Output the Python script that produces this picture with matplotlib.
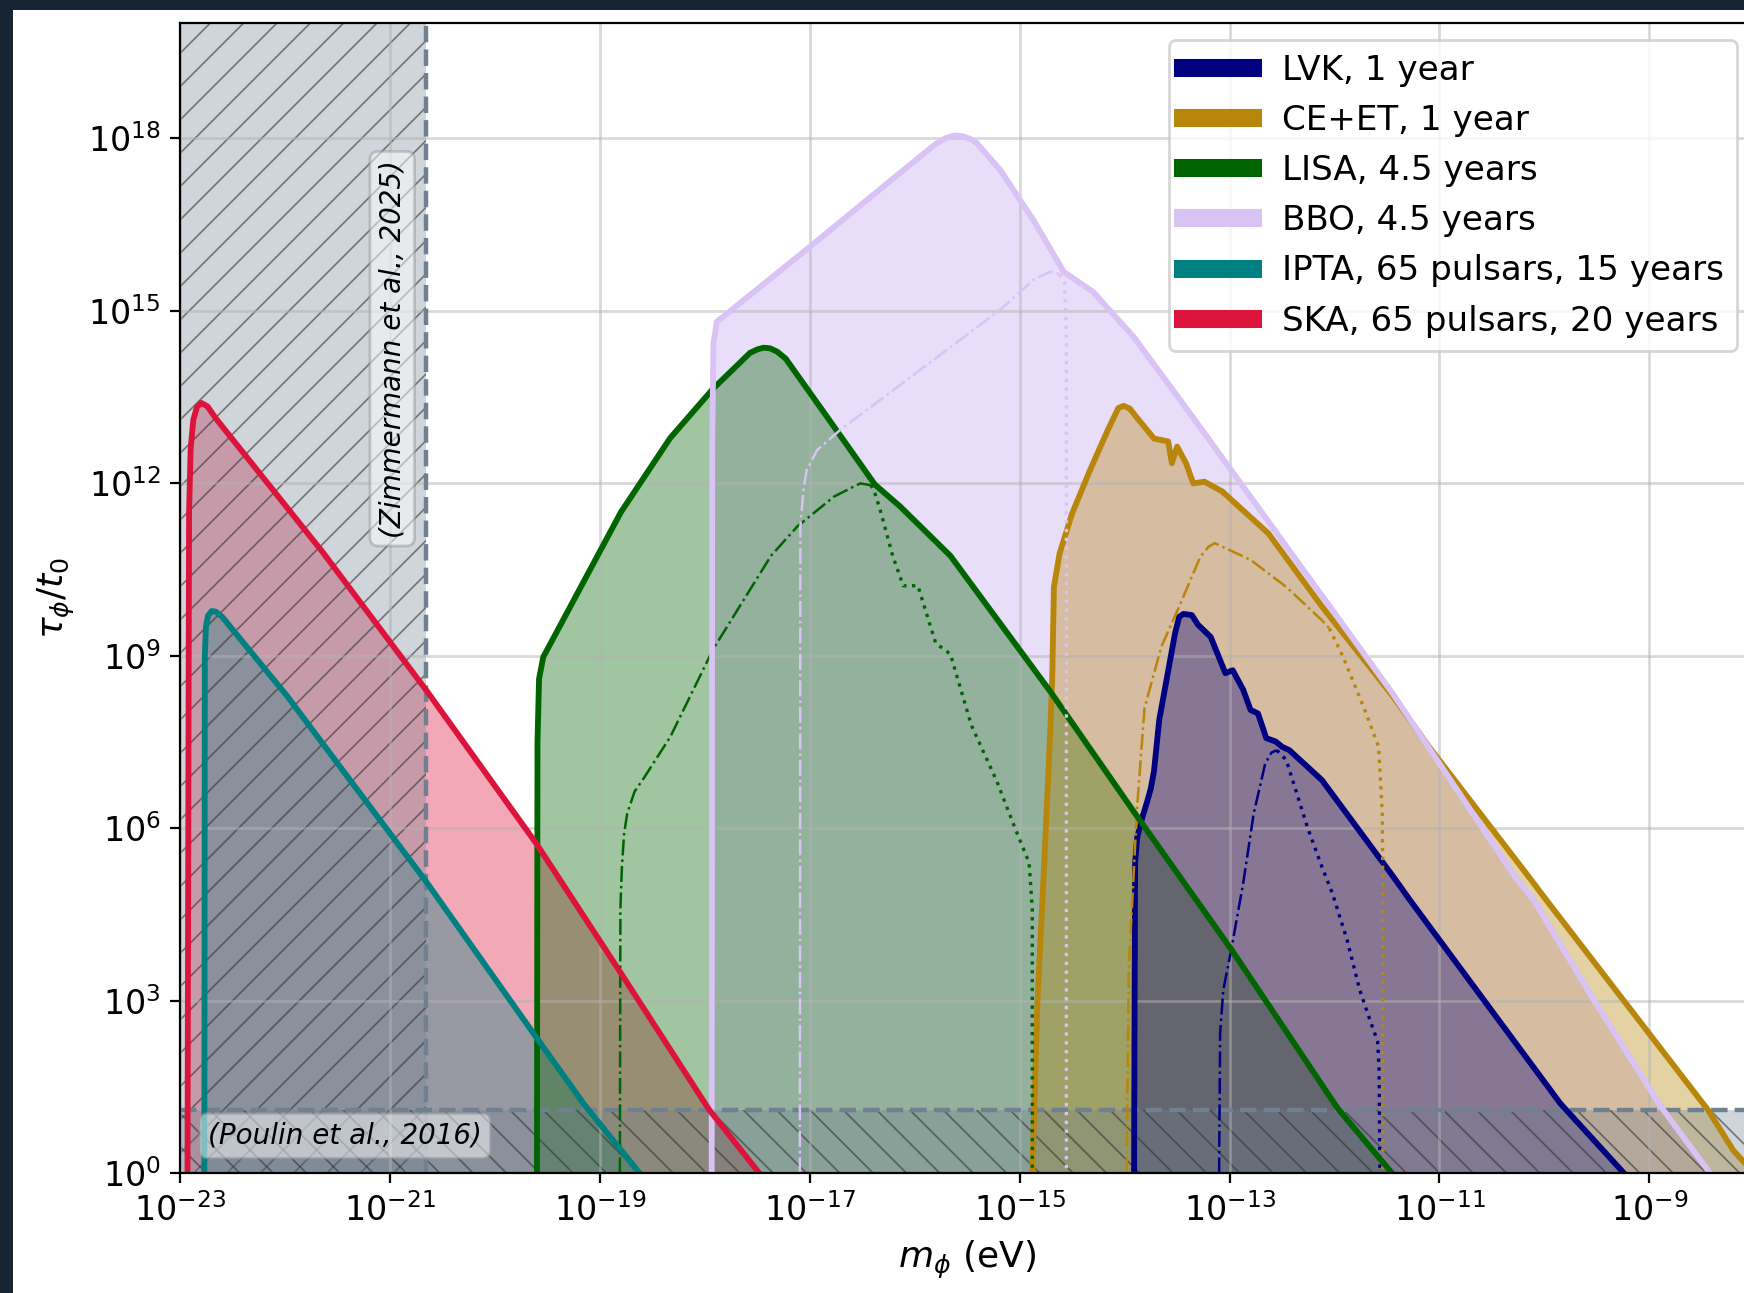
import numpy as np
import matplotlib
matplotlib.use("Agg")
from matplotlib import pyplot as plt
from matplotlib.lines import Line2D
from matplotlib.patches import Rectangle
from matplotlib.ticker import NullLocator

# curves, stored as log10(m_phi / eV) and log10(tau_phi / t0)
lvk_logm = [-13.91, -13.905, -13.90, -13.88, -13.83, -13.78, -13.75, -13.72, -13.67, -13.63, -13.52, -13.48,
            -13.44, -13.36, -13.30, -13.18, -13.04, -12.97, -12.87, -12.80, -12.73, -12.65, -12.56, -12.50,
            -12.43, -12.12, -11.44, -11.28, -9.85, -9.47, -9.24]
lvk_logtau = [0.0, 3.0, 5.4, 5.85, 6.2, 6.5, 6.7, 7.0, 7.89, 8.29, 9.39, 9.68,
              9.73, 9.71, 9.54, 9.33, 8.70, 8.75, 8.41, 8.06, 8.0, 7.57, 7.51, 7.42,
              7.36, 6.84, 5.16, 4.75, 1.22, 0.46, 0.0]
lvk_dd_logm = [-13.10, -13.09, -13.06, -12.99, -12.87, -12.77, -12.66, -12.60, -12.55]
lvk_dd_logtau = [0.0, 2.44, 3.19, 3.83, 5.05, 6.26, 7.13, 7.32, 7.36]
lvk_dot_logm = [-12.55, -12.46, -12.26, -12.12, -12.02, -11.88, -11.76, -11.64, -11.59, -11.576, -11.567]
lvk_dot_logtau = [7.36, 7.19, 6.03, 5.33, 4.87, 4.06, 3.19, 2.55, 2.3, 1.86, 0.0]

ce_logm = [-14.88, -14.83, -14.76, -14.71, -14.69, -14.674, -14.62, -14.50, -14.33, -14.16, -14.06, -14.01,
           -13.95, -13.89, -13.72, -13.585, -13.55, -13.50, -13.415, -13.346, -13.24, -13.07, -12.63, -12.12,
           -11.44, -11.10, -10.15, -9.98, -8.44, -8.20, -8.0]
ce_logtau = [0.0, 3.02, 5.62, 7.65, 8.6, 10.20, 10.78, 11.48, 12.23, 12.93, 13.31, 13.35,
             13.30, 13.16, 12.78, 12.73, 12.35, 12.64, 12.35, 12.0, 12.03, 11.86, 11.13, 9.86,
             8.29, 7.42, 5.16, 4.75, 1.10, 0.40, 0.0]
ce_dd_logm = [-13.98, -13.97, -13.96, -13.88, -13.81, -13.65, -13.48, -13.28, -13.20, -13.14, -12.80, -12.46,
              -12.12, -12.05]
ce_dd_logtau = [0.0, 2.0, 3.6, 6.4, 8.1, 9.16, 9.86, 10.72, 10.90, 10.96, 10.67, 10.2, 9.62, 9.48]
ce_dot_logm = [-12.05, -11.92, -11.72, -11.58, -11.545, -11.54, -11.54]
ce_dot_logtau = [9.48, 8.99, 8.1, 7.42, 6.26, 5.16, 0.0]

lisa_logm = [-19.60, -19.595, -19.58, -19.54, -18.80, -18.33, -17.92, -17.57, -17.50, -17.44, -17.38, -17.31,
             -17.23, -16.86, -16.38, -16.14, -15.66, -14.70, -13.87, -12.97, -11.97, -11.45]
lisa_logtau = [0.0, 7.5, 8.6, 8.98, 11.50, 12.79, 13.65, 14.27, 14.33, 14.36, 14.35, 14.29,
               14.17, 13.22, 11.98, 11.60, 10.74, 8.36, 6.18, 3.86, 1.13, 0.0]
lisa_dd_logm = [-18.81, -18.805, -18.79, -18.77, -18.74, -18.67, -18.58, -18.33, -17.92, -17.37, -17.12,
                -16.77, -16.52, -16.42]
lisa_dd_logtau = [0.0, 4.6, 5.35, 5.9, 6.26, 6.64, 6.88, 7.59, 9.12, 10.74, 11.25, 11.77, 12.0, 11.97]
lisa_dot_logm = [-16.42, -16.39, -16.33, -16.21, -16.11, -15.97, -15.80, -15.66, -15.46, -15.22, -15.05,
                 -14.91, -14.88, -14.88]
lisa_dot_logtau = [11.97, 11.89, 11.54, 10.74, 10.22, 10.22, 9.22, 9.03, 7.79, 6.83, 6.03, 5.4, 4.6, 0.0]

bbo_logm = [-17.935, -17.93, -17.918, -17.886, -16.996, -16.14, -15.81, -15.70, -15.62, -15.55, -15.47, -15.41,
            -15.185, -14.87, -14.58, -14.30, -13.915, -13.47, -13.0, -11.44, -10.28, -10.10, -9.53, -8.89,
            -8.42]
bbo_logtau = [0.0, 12.70, 14.44, 14.81, 16.12, 17.40, 17.89, 18.01, 18.05, 18.04, 17.99, 17.92,
              17.45, 16.58, 15.68, 15.33, 14.55, 13.45, 12.27, 8.33, 5.16, 4.75, 3.02, 1.16,
              0.0]
bbo_dd_logm = [-17.095, -17.09, -17.06, -17.03, -16.93, -16.71, -15.82, -15.185, -14.87, -14.71, -14.62]
bbo_dd_logtau = [0.0, 11.25, 11.9, 12.23, 12.58, 12.93, 14.15, 15.02, 15.54, 15.68, 15.64]
bbo_dot_logm = [-14.62, -14.57, -14.555, -14.555]
bbo_dot_logtau = [15.64, 15.48, 14.5, 0.0]

ipta_logm = [-22.77, -22.765, -22.755, -22.735, -22.70, -22.66, -22.60, -21.98, -20.65, -19.60, -19.15, -18.62]
ipta_logtau = [0.0, 9.0, 9.50, 9.70, 9.78, 9.77, 9.68, 8.30, 5.06, 2.35, 1.20, 0.0]

ska_logm = [-22.93, -22.92, -22.915, -22.90, -22.875, -22.84, -22.80, -22.74, -22.66, -21.64, -20.65,
            -19.60, -18.81, -17.96, -17.48]
ska_logtau = [0.0, 8.0, 11.5, 12.6, 13.1, 13.33, 13.40, 13.34, 13.13, 10.8, 8.39,
              5.72, 3.51, 1.11, 0.0]

labels = ["LVK, 1 year", "CE+ET, 1 year", "LISA, 4.5 years", "BBO, 4.5 years",
          "IPTA, 65 pulsars, 15 years", "SKA, 65 pulsars, 20 years"]
colors = ["#000080", "#b8860b", "#006400", "#d9c2f4", "#008080", "#dc143c"]

zimmermann_m = 2.2e-21
poulin_tau = 12.6

plt.rcParams['hatch.linewidth'] = 0.6

fig = plt.figure(figsize=(8.72, 6.465), dpi=200, facecolor="#172434")
fig.add_artist(Rectangle((13 / 1744, 0), 1, 1 - 10 / 1293, transform=fig.transFigure,
                         facecolor="white", edgecolor="none", zorder=-10))
ax = fig.add_axes([0.1033, 0.0925, 0.9026, 0.8894])


def region(logm, logtau, color, alpha=0.37):
    ax.fill_between(10.0 ** np.array(logm), 10.0 ** np.array(logtau), 1,
                    color=color, alpha=alpha, lw=0, zorder=1)


def curve(logm, logtau, color, **kw):
    ax.plot(10.0 ** np.array(logm), 10.0 ** np.array(logtau), color=color, zorder=2.5,
            solid_joinstyle="round", **kw)


# fills, bottom to top
region(bbo_logm, bbo_logtau, "#9b69e8", alpha=0.22)
region(ska_logm, ska_logtau, colors[5])
region(ipta_logm, ipta_logtau, colors[4])
region(lisa_logm, lisa_logtau, colors[2])
region(ce_logm, ce_logtau, colors[1])
region(lvk_logm, lvk_logtau, colors[0])

# excluded regions
gray = (0.44, 0.5, 0.565, 0.33)
hatchc = (0.2, 0.2, 0.2, 0.6)
ax.fill_betweenx([1, 1e20], 1e-24, zimmermann_m, facecolor=gray, edgecolor=hatchc,
                 hatch='//', lw=0, zorder=1.2)
ax.fill_between([1e-24, 1e-7], 1, poulin_tau, facecolor=gray, edgecolor=hatchc,
                hatch='\\\\', lw=0, zorder=1.2)
ax.axvline(zimmermann_m, color="slategray", ls="--", lw=1.6, zorder=2.2)
ax.axhline(poulin_tau, color="slategray", ls="--", lw=1.6, zorder=2.2)

sets = [
    (lvk_logm, lvk_logtau, lvk_dd_logm, lvk_dd_logtau, lvk_dot_logm, lvk_dot_logtau, colors[0]),
    (ce_logm, ce_logtau, ce_dd_logm, ce_dd_logtau, ce_dot_logm, ce_dot_logtau, colors[1]),
    (lisa_logm, lisa_logtau, lisa_dd_logm, lisa_dd_logtau, lisa_dot_logm, lisa_dot_logtau, colors[2]),
    (bbo_logm, bbo_logtau, bbo_dd_logm, bbo_dd_logtau, bbo_dot_logm, bbo_dot_logtau, colors[3]),
]
for lm, lt, dm, dt, om, ot, c in sets:
    curve(lm, lt, c, lw=2.1)
    curve(dm, dt, c, lw=0.9, ls="-.")
    curve(om, ot, c, lw=1.2, ls=":")
curve(ipta_logm, ipta_logtau, colors[4], lw=2.1)
curve(ska_logm, ska_logtau, colors[5], lw=2.1)

bbox = dict(boxstyle="round,pad=0.3", facecolor="white", alpha=0.5, edgecolor="0.6")
ax.text(1.05e-21, 2.2e14, "(Zimmermann et al., 2025)", rotation=90, style="italic",
        fontsize=10, ha="center", va="center", bbox=bbox, zorder=3)
ax.text(1.85e-23, 4.5, "(Poulin et al., 2016)", style="italic", fontsize=10,
        ha="left", va="center", bbox=bbox, zorder=3)

ax.set_xscale("log")
ax.set_yscale("log")
ax.set_xlim(1e-23, 1e-8)
ax.set_ylim(1, 1e20)
ax.set_xticks(10.0 ** np.arange(-23, -8, 2))
ax.set_yticks(10.0 ** np.arange(0, 19, 3))
ax.xaxis.set_minor_locator(NullLocator())
ax.yaxis.set_minor_locator(NullLocator())
ax.grid(True, color="0.7", alpha=0.5, lw=1.0)
ax.tick_params(labelsize=12)
ax.set_xlabel(r"$m_\phi$ (eV)", fontsize=13)
ax.set_ylabel(r"$\tau_\phi/t_0$", fontsize=13)

handles = [Line2D([], [], color=c, lw=6.5) for c in colors]
ax.legend(handles, labels, loc="upper right", fontsize=12.3, handlelength=2.05, handletextpad=0.85)

fig.savefig("out.png", dpi=200)
